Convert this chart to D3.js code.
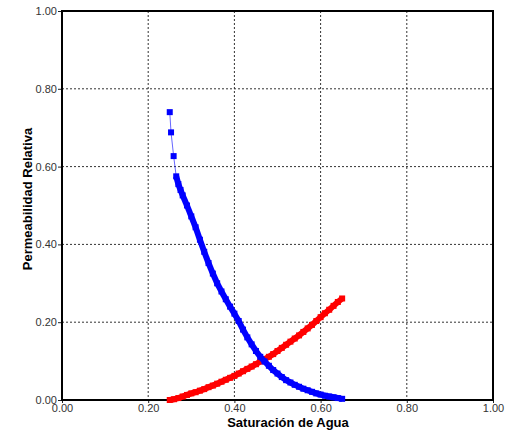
<!DOCTYPE html>
<html>
<head>
<meta charset="utf-8">
<script src="https://cdn.jsdelivr.net/npm/d3@7"></script>
<style>
  body { margin: 0; background: #fff; }
  text { font-family: Arial, "Liberation Sans", sans-serif; }
</style>
</head>
<body>
<div id="chart"></div>
<script>
// datos
var ticks = [0, 0.2, 0.4, 0.6, 0.8, 1.0];

var kroSw = [0.250, 0.253, 0.259, 0.265, 0.270, 0.275, 0.280, 0.290, 0.300, 0.310,
  0.320, 0.330, 0.340, 0.350, 0.360, 0.370, 0.380, 0.390, 0.400, 0.410,
  0.420, 0.430, 0.440, 0.450, 0.460, 0.470, 0.480, 0.490, 0.500, 0.510,
  0.520, 0.530, 0.540, 0.550, 0.560, 0.570, 0.580, 0.590, 0.600, 0.610,
  0.620, 0.630, 0.640, 0.650];
var kro = [0.740, 0.688, 0.627, 0.575, 0.555, 0.540, 0.526, 0.500, 0.472, 0.444,
  0.412, 0.381, 0.352, 0.325, 0.300, 0.279, 0.259, 0.240, 0.222, 0.203,
  0.181, 0.161, 0.143, 0.126, 0.111, 0.099, 0.088, 0.077, 0.068, 0.059,
  0.051, 0.045, 0.039, 0.034, 0.029, 0.025, 0.021, 0.017, 0.014, 0.011,
  0.009, 0.007, 0.005, 0.003];

var krwSw = [0.250, 0.260, 0.270, 0.280, 0.290, 0.300, 0.310, 0.320, 0.330, 0.340,
  0.350, 0.360, 0.370, 0.380, 0.390, 0.400, 0.410, 0.420, 0.430, 0.440,
  0.450, 0.460, 0.470, 0.480, 0.490, 0.500, 0.510, 0.520, 0.530, 0.540,
  0.550, 0.560, 0.570, 0.580, 0.590, 0.600, 0.610, 0.620, 0.630, 0.640,
  0.650];
var krw = [0.000, 0.002, 0.005, 0.009, 0.013, 0.017, 0.020, 0.024, 0.028, 0.033,
  0.037, 0.042, 0.047, 0.052, 0.057, 0.062, 0.068, 0.074, 0.080, 0.086,
  0.092, 0.099, 0.105, 0.111, 0.118, 0.126, 0.134, 0.142, 0.150, 0.158,
  0.166, 0.175, 0.184, 0.193, 0.203, 0.213, 0.223, 0.232, 0.242, 0.252,
  0.261];

var chartWidth = 505, chartHeight = 434;
var plotLeft = 62, plotRight = 493, plotTop = 11, plotBottom = 400;

var svg = d3.select("#chart").append("svg")
  .attr("width", chartWidth)
  .attr("height", chartHeight);

var x = d3.scaleLinear().domain([0, 1]).range([plotLeft, plotRight]);
var y = d3.scaleLinear().domain([0, 1]).range([plotBottom, plotTop]);

// rejilla punteada
svg.append("g").selectAll("line")
  .data(ticks.slice(1, -1))
  .enter().append("line")
  .attr("x1", function (d) { return x(d); })
  .attr("x2", function (d) { return x(d); })
  .attr("y1", plotTop).attr("y2", plotBottom)
  .attr("stroke", "#333").attr("stroke-width", 1)
  .attr("stroke-dasharray", "2,2");

svg.append("g").selectAll("line")
  .data(ticks.slice(1, -1))
  .enter().append("line")
  .attr("y1", function (d) { return y(d); })
  .attr("y2", function (d) { return y(d); })
  .attr("x1", plotLeft).attr("x2", plotRight)
  .attr("stroke", "#333").attr("stroke-width", 1)
  .attr("stroke-dasharray", "2,2");

// ejes
var xAxis = svg.append("g")
  .attr("transform", "translate(0," + plotBottom + ")")
  .call(d3.axisBottom(x).tickValues(ticks).tickFormat(d3.format(".2f")).tickSize(3).tickPadding(1));
var yAxis = svg.append("g")
  .attr("transform", "translate(" + plotLeft + ",0)")
  .call(d3.axisLeft(y).tickValues(ticks).tickFormat(d3.format(".2f")).tickSize(4).tickPadding(1));

[xAxis, yAxis].forEach(function (g) {
  g.select(".domain").remove();
  g.selectAll("line").attr("stroke", "#222");
  g.selectAll("text").attr("font-size", 11).attr("fill", "#333")
    .attr("font-family", "Arial, 'Liberation Sans', sans-serif");
});

// marco
svg.append("rect")
  .attr("x", plotLeft).attr("y", plotTop)
  .attr("width", plotRight - plotLeft).attr("height", plotBottom - plotTop)
  .attr("fill", "none").attr("stroke", "#000").attr("stroke-width", 2);

// curvas
function drawSeries(sw, kr, color) {
  var pts = sw.map(function (s, i) { return [x(s), y(kr[i])]; });
  var g = svg.append("g");
  for (var i = 1; i < pts.length; i++) {
    var a = pts[i - 1], b = pts[i];
    var dist = Math.hypot(b[0] - a[0], b[1] - a[1]);
    g.append("line")
      .attr("x1", a[0]).attr("y1", a[1])
      .attr("x2", b[0]).attr("y2", b[1])
      .attr("stroke", color)
      .attr("stroke-width", dist < 14 ? 6 : 1)
      .attr("stroke-opacity", dist < 14 ? 1 : 0.6);
  }
  g.selectAll("rect")
    .data(pts)
    .enter().append("rect")
    .attr("x", function (d) { return d[0] - 3; })
    .attr("y", function (d) { return d[1] - 3; })
    .attr("width", 6).attr("height", 6)
    .attr("fill", color);
}

drawSeries(krwSw, krw, "#ff0000");
drawSeries(kroSw, kro, "#0000ff");

// titulos
svg.append("text")
  .attr("x", 288).attr("y", 427)
  .attr("text-anchor", "middle")
  .attr("font-size", 13).attr("font-weight", "bold")
  .text("Saturación de Agua");

svg.append("text")
  .attr("transform", "translate(32,199) rotate(-90)")
  .attr("text-anchor", "middle")
  .attr("font-size", 13).attr("font-weight", "bold")
  .text("Permeabilidad Relativa");
</script>
</body>
</html>
